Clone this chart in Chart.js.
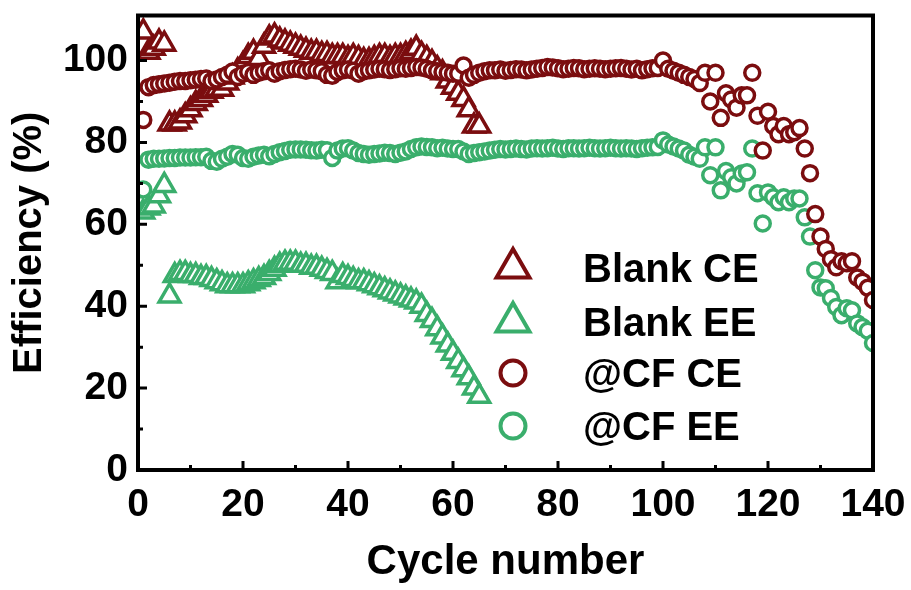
<!DOCTYPE html>
<html lang="en">
<head>
<meta charset="UTF-8">
<title>Efficiency vs cycle number</title>
<script src="https://cdn.jsdelivr.net/npm/chart.js"></script>
<style>
  html, body { margin: 0; padding: 0; background: #fff; }
  #wrap { width: 911px; height: 590px; }
</style>
</head>
<body>
<div id="wrap"><canvas id="effChart" width="911" height="590"></canvas></div>
<script>
// values, one entry per cycle starting at cycle 1
const blankCE = [107, 102, 103, 104.5, 104, 84.5, 84.5, 85, 86.5, 88, 89.5, 90.5, 91.5, 92.5, 93, 93, 94.5, 96, 97.5, 99,
  101, 102, 100.5, 103.5, 105.5, 106, 105, 104.5, 104, 103.5, 103, 102.5, 102, 102, 101.5, 101.5, 101, 101, 101, 100.5,
  101, 100.5, 100, 100, 100.5, 101, 101, 100.5, 101, 101, 101.5, 102, 103, 101.5, 100.5, 99.5, 98, 97, 95, 93.5,
  92, 90.5, 88, 84, 84];
const blankEE = [63, 64, 64.5, 67, 69.5, 42.5, 47.5, 48, 48, 47.5, 47.5, 47, 47, 46.5, 46, 45.5, 45, 45, 45, 45,
  45.5, 46, 46.5, 47, 48, 49, 50, 50.5, 50.5, 50.5, 50, 50, 49.5, 49.5, 49, 48.5, 48, 46, 47.5, 47,
  46.5, 46, 46, 45.5, 45, 44.5, 44, 43.5, 43, 42.5, 42, 41.5, 41, 40, 38, 36.5, 34.5, 32.5, 30.5, 28.5,
  26.5, 24.5, 22.5, 20, 18];
const cfCE = [85.5, 93.5, 94, 94.2, 94.4, 94.6, 94.8, 95, 95, 95.2, 95.3, 95.5, 95.6, 95, 95.4, 96, 96.5, 97.3, 96, 96.8,
  97.2, 96.5, 97, 97.4, 97.6, 96.8, 97.4, 97.7, 97.9, 98, 97.8, 97.5, 97.8, 97.6, 97.4, 96.5, 96.3, 97.2, 97.6, 97.8,
  97.5, 96.8, 97.4, 97.6, 97.8, 98, 97.9, 97.7, 97.9, 98.1, 98, 98.2, 98.4, 98.3, 98, 97.6, 97.4, 97.2, 97, 96.8,
  96.8, 98.8, 95.8, 96.5, 97, 97.4, 97.6, 97.6, 97.8, 97.5, 97.7, 97.9, 97.8, 97.6, 97.8, 98, 98.2, 98.4, 98.3, 98.1,
  97.9, 98, 98.2, 98.1, 97.9, 98, 98.1, 98, 97.9, 98, 98.1, 98.2, 98, 97.8, 98, 97.6, 97.9, 98.1, 98.2, 100,
  98, 97.5, 97, 96.5, 96, 95.5, 94.5, 97, 90, 97, 86, 92, 90.5, 88.5, 91.5, 91.5, 97, 86.5, 78, 87.5,
  84, 82, 84, 82, 82.5, 83.5, 78.5, 72.5, 62.5, 57, 54, 51.5, 49.5, 51, 50.5, 51, 47, 46, 44.5, 41.5];
const cfEE = [68.5, 75.8, 76, 76, 76.1, 76.2, 76.2, 76.3, 76.3, 76.3, 76.4, 76.4, 76.5, 75.5, 75.3, 76, 76.5, 77.2, 77, 76.2,
  76, 76.5, 76.8, 77, 76.6, 77.2, 77.6, 77.9, 78.2, 78.3, 78.3, 78.2, 78.1, 78, 78.2, 78.1, 76.2, 78, 78.5, 78.6,
  78, 77.4, 77.2, 77, 77.2, 77.3, 77.5, 77.4, 77.2, 77.5, 77.8, 78.4, 78.8, 79, 78.9, 78.8, 78.6, 78.7, 78.5, 78.4,
  78.4, 77.8, 77.2, 77.4, 77.6, 77.8, 78, 78.2, 78.4, 78.3, 78.4, 78.5, 78.4, 78.3, 78.5, 78.6, 78.5, 78.6, 78.7, 78.5,
  78.4, 78.6, 78.6, 78.5, 78.6, 78.7, 78.6, 78.5, 78.6, 78.7, 78.6, 78.5, 78.6, 78.5, 78.4, 78.6, 78.7, 78.8, 78.9, 80.5,
  79.5, 79, 78.5, 78, 77, 76.5, 76, 78.8, 72, 78.8, 68.3, 73, 71.5, 70, 72.4, 72.7, 78.5, 67.6, 60.2, 67.8,
  66.6, 65.4, 66.6, 65.4, 66.3, 66.3, 61.7, 57, 48.8, 44.6, 44.4, 42, 39.8, 37.8, 39.5, 39, 35.8, 34.9, 34, 31];

const seriesNames = ['Blank CE', 'Blank EE', '@CF CE', '@CF EE'];
const xTicks = [0, 20, 40, 60, 80, 100, 120, 140];
const xMinorTicks = [10, 30, 50, 70, 90, 110, 130];
const yTicks = [0, 20, 40, 60, 80, 100];
const yMinorTicks = [10, 30, 50, 70, 90];

const RED = '#7b0d0f';
const GREEN = '#3aae6c';
const FONT = '"Liberation Sans", Arial, sans-serif';

function toPoints(values) {
  return values.map((v, i) => ({ x: i + 1, y: v }));
}

// box round the plot plus inward ticks on the bottom and left axes
const framePlugin = {
  id: 'frame',
  afterDatasetsDraw(chart) {
    const { ctx, chartArea: a, scales: { x, y } } = chart;
    ctx.save();
    ctx.strokeStyle = '#000';
    ctx.lineWidth = 4;
    ctx.strokeRect(a.left, a.top, a.right - a.left, a.bottom - a.top);
    ctx.lineWidth = 3;
    ctx.beginPath();
    xTicks.forEach(v => { const p = x.getPixelForValue(v); ctx.moveTo(p, a.bottom); ctx.lineTo(p, a.bottom - 9); });
    xMinorTicks.forEach(v => { const p = x.getPixelForValue(v); ctx.moveTo(p, a.bottom); ctx.lineTo(p, a.bottom - 5); });
    yTicks.forEach(v => { const p = y.getPixelForValue(v); ctx.moveTo(a.left, p); ctx.lineTo(a.left + 9, p); });
    yMinorTicks.forEach(v => { const p = y.getPixelForValue(v); ctx.moveTo(a.left, p); ctx.lineTo(a.left + 5, p); });
    ctx.stroke();
    ctx.restore();
  }
};

// legend inside the plot, lower right
const legendPlugin = {
  id: 'innerLegend',
  afterDraw(chart) {
    const { ctx } = chart;
    const mx = 513, tx = 583;
    const rows = [268, 322, 373, 426];
    ctx.save();
    chart.data.datasets.forEach((ds, i) => {
      const cy = rows[i];
      ctx.lineWidth = 4;
      ctx.strokeStyle = ds.borderColor;
      ctx.fillStyle = '#fff';
      ctx.beginPath();
      if (ds.pointStyle === 'triangle') {
        const r = 19;
        ctx.moveTo(mx, cy - r);
        ctx.lineTo(mx + r * 0.866, cy + r * 0.5);
        ctx.lineTo(mx - r * 0.866, cy + r * 0.5);
        ctx.closePath();
      } else {
        ctx.arc(mx, cy, 12.5, 0, Math.PI * 2);
      }
      ctx.fill();
      ctx.stroke();
      ctx.fillStyle = '#000';
      ctx.font = 'bold 40px ' + FONT;
      ctx.textBaseline = 'alphabetic';
      ctx.fillText(ds.label, tx, cy + 14);
    });
    ctx.restore();
  }
};

function makeSet(label, values, color, style, radius) {
  return {
    label: label,
    data: toPoints(values),
    showLine: false,
    pointStyle: style,
    pointRadius: radius,
    pointHoverRadius: radius,
    pointBorderWidth: 3.5,
    borderColor: color,
    pointBorderColor: color,
    pointBackgroundColor: '#fff',
    backgroundColor: '#fff'
  };
}

const blankCESet = makeSet(seriesNames[0], blankCE, RED, 'triangle', 12);
const blankEESet = makeSet(seriesNames[1], blankEE, GREEN, 'triangle', 12);
const cfCESet = makeSet(seriesNames[2], cfCE, RED, 'circle', 7.5);
const cfEESet = makeSet(seriesNames[3], cfEE, GREEN, 'circle', 7.5);
// circles sit on top of the triangles
blankCESet.order = 3;
blankEESet.order = 4;
cfCESet.order = 1;
cfEESet.order = 2;

new Chart(document.getElementById('effChart'), {
  type: 'scatter',
  data: { datasets: [blankCESet, blankEESet, cfCESet, cfEESet] },
  options: {
    responsive: false,
    animation: false,
    layout: { padding: { top: 15, right: 38, left: 0, bottom: 0 } },
    plugins: {
      legend: { display: false },
      tooltip: { enabled: false }
    },
    scales: {
      x: {
        type: 'linear',
        min: 0,
        max: 140,
        afterBuildTicks: s => { s.ticks = xTicks.map(v => ({ value: v })); },
        afterFit: s => { s.height = 120; s.paddingLeft = 0; s.paddingRight = 0; },
        grid: { display: false, drawTicks: false },
        border: { display: false },
        ticks: { color: '#000', padding: 12, maxRotation: 0, font: { family: FONT, size: 39, weight: 'bold' } },
        title: { display: true, text: 'Cycle number', color: '#000', padding: { top: 0, bottom: 2 },
          font: { family: FONT, size: 42, weight: 'bold' } }
      },
      y: {
        type: 'linear',
        min: 0,
        max: 111,
        afterBuildTicks: s => { s.ticks = yTicks.map(v => ({ value: v })); },
        afterFit: s => { s.width = 138; s.paddingTop = 0; s.paddingBottom = 0; },
        grid: { display: false, drawTicks: false },
        border: { display: false },
        ticks: { color: '#000', padding: 10, font: { family: FONT, size: 39, weight: 'bold' } },
        title: { display: true, text: 'Efficiency (%)', color: '#000', padding: { top: 6, bottom: 0 },
          font: { family: FONT, size: 40, weight: 'bold' } }
      }
    }
  },
  plugins: [framePlugin, legendPlugin]
});
</script>
</body>
</html>
